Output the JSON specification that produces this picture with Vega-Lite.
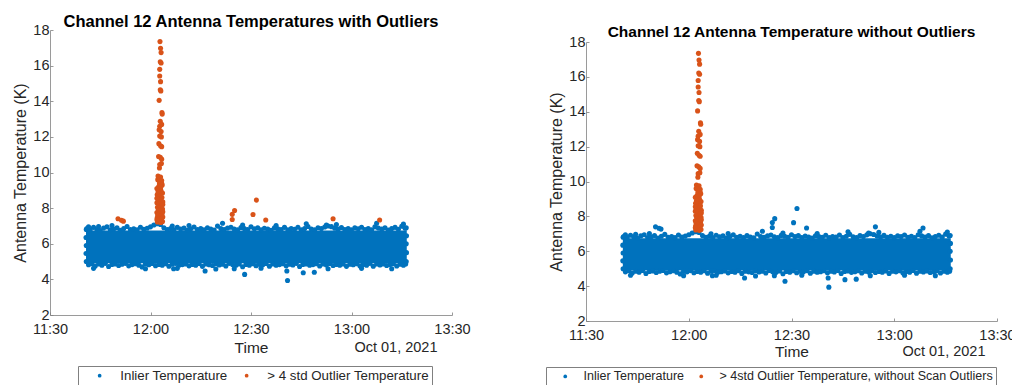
{
  "$schema": "https://vega.github.io/schema/vega-lite/v6.json",
  "padding": {"left": 12, "top": 12, "right": 5, "bottom": 0},
  "background": "white",
  "config": {
    "font": "Liberation Sans",
    "view": {"stroke": null},
    "axis": {"domainColor": "#808080", "domainWidth": 0.8, "tickColor": "#808080", "tickWidth": 0.8, "tickSize": -3, "labelColor": "#262626", "labelFont": "Liberation Sans", "labelFontSize": 14.5, "titleColor": "#262626", "titleFont": "Liberation Sans", "titleFontSize": 15.5, "titleFontWeight": "normal", "grid": false, "labelOverlap": false},
    "title": {"font": "Liberation Sans", "fontSize": 16.5, "fontWeight": "bold", "color": "#000000", "anchor": "middle"},
    "legend": {"labelFont": "Liberation Sans", "labelFontSize": 13.3, "labelColor": "#262626", "labelLimit": 0, "symbolType": "circle", "symbolSize": 14, "symbolStrokeWidth": 0, "orient": "none", "direction": "horizontal", "strokeColor": "#808080", "fillColor": "white", "padding": 3, "symbolOffset": 12, "labelOffset": 14, "columnPadding": -2, "title": null}
  },
  "datasets": {
    "band": [{"t": "2021-10-01T11:40:45Z", "t1": "2021-10-01T13:16:30Z", "v": 4.9, "v2": 6.75}],
    "blue": [
      {"t":"2021-10-01T11:40:50Z","v":5.0},{"t":"2021-10-01T11:40:45Z","v":5.45},{"t":"2021-10-01T11:40:50Z","v":5.9},{"t":"2021-10-01T11:40:45Z","v":6.35},{"t":"2021-10-01T11:40:50Z","v":6.8},
      {"t":"2021-10-01T13:16:20Z","v":5.0},{"t":"2021-10-01T13:16:25Z","v":5.5},{"t":"2021-10-01T13:16:20Z","v":6.0},{"t":"2021-10-01T13:16:25Z","v":6.45},{"t":"2021-10-01T13:16:20Z","v":6.9},
      {"t":"2021-10-01T11:41:00Z","v":6.85},{"t":"2021-10-01T11:42:00Z","v":6.78},{"t":"2021-10-01T11:43:00Z","v":6.92},{"t":"2021-10-01T11:44:00Z","v":6.8},{"t":"2021-10-01T11:45:00Z","v":6.74},{"t":"2021-10-01T11:46:00Z","v":6.88},{"t":"2021-10-01T11:47:00Z","v":6.95},{"t":"2021-10-01T11:48:00Z","v":6.79},{"t":"2021-10-01T11:49:00Z","v":6.83},{"t":"2021-10-01T11:50:00Z","v":6.9},
      {"t":"2021-10-01T11:51:00Z","v":6.76},{"t":"2021-10-01T11:52:00Z","v":6.86},{"t":"2021-10-01T11:53:00Z","v":6.97},{"t":"2021-10-01T11:54:00Z","v":6.8},{"t":"2021-10-01T11:55:00Z","v":6.84},{"t":"2021-10-01T11:56:00Z","v":6.78},{"t":"2021-10-01T11:57:00Z","v":6.93},{"t":"2021-10-01T11:58:00Z","v":6.81},{"t":"2021-10-01T11:59:00Z","v":6.87},{"t":"2021-10-01T12:00:00Z","v":6.95},
      {"t":"2021-10-01T12:01:00Z","v":7.05},{"t":"2021-10-01T12:02:00Z","v":7.12},{"t":"2021-10-01T12:03:00Z","v":7.08},{"t":"2021-10-01T12:04:00Z","v":6.9},{"t":"2021-10-01T12:05:00Z","v":6.8},{"t":"2021-10-01T12:06:00Z","v":6.86},{"t":"2021-10-01T12:07:00Z","v":6.78},{"t":"2021-10-01T12:08:00Z","v":6.92},{"t":"2021-10-01T12:09:00Z","v":6.83},{"t":"2021-10-01T12:10:00Z","v":6.88},
      {"t":"2021-10-01T12:11:00Z","v":6.76},{"t":"2021-10-01T12:12:00Z","v":6.84},{"t":"2021-10-01T12:13:00Z","v":6.94},{"t":"2021-10-01T12:14:00Z","v":6.8},{"t":"2021-10-01T12:15:00Z","v":6.86},{"t":"2021-10-01T12:16:00Z","v":6.79},{"t":"2021-10-01T12:17:00Z","v":6.9},{"t":"2021-10-01T12:18:00Z","v":6.82},{"t":"2021-10-01T12:19:00Z","v":6.77},{"t":"2021-10-01T12:20:00Z","v":6.99},
      {"t":"2021-10-01T12:21:00Z","v":6.85},{"t":"2021-10-01T12:22:00Z","v":6.8},{"t":"2021-10-01T12:23:00Z","v":6.88},{"t":"2021-10-01T12:24:00Z","v":6.93},{"t":"2021-10-01T12:25:00Z","v":6.83},{"t":"2021-10-01T12:26:00Z","v":6.78},{"t":"2021-10-01T12:27:00Z","v":6.91},{"t":"2021-10-01T12:28:00Z","v":6.86},{"t":"2021-10-01T12:29:00Z","v":6.8},{"t":"2021-10-01T12:30:00Z","v":6.95},
      {"t":"2021-10-01T12:31:00Z","v":6.84},{"t":"2021-10-01T12:32:00Z","v":6.9},{"t":"2021-10-01T12:33:00Z","v":6.79},{"t":"2021-10-01T12:34:00Z","v":6.87},{"t":"2021-10-01T12:35:00Z","v":6.82},{"t":"2021-10-01T12:36:00Z","v":6.75},{"t":"2021-10-01T12:37:00Z","v":6.89},{"t":"2021-10-01T12:38:00Z","v":6.84},{"t":"2021-10-01T12:39:00Z","v":6.8},{"t":"2021-10-01T12:40:00Z","v":6.92},
      {"t":"2021-10-01T12:41:00Z","v":6.78},{"t":"2021-10-01T12:42:00Z","v":6.85},{"t":"2021-10-01T12:43:00Z","v":6.81},{"t":"2021-10-01T12:44:00Z","v":6.93},{"t":"2021-10-01T12:45:00Z","v":6.79},{"t":"2021-10-01T12:46:00Z","v":6.86},{"t":"2021-10-01T12:47:00Z","v":6.97},{"t":"2021-10-01T12:48:00Z","v":6.83},{"t":"2021-10-01T12:49:00Z","v":6.78},{"t":"2021-10-01T12:50:00Z","v":6.9},
      {"t":"2021-10-01T12:51:00Z","v":6.85},{"t":"2021-10-01T12:52:00Z","v":6.94},{"t":"2021-10-01T12:53:00Z","v":7.0},{"t":"2021-10-01T12:54:00Z","v":6.96},{"t":"2021-10-01T12:55:00Z","v":6.87},{"t":"2021-10-01T12:56:00Z","v":6.82},{"t":"2021-10-01T12:57:00Z","v":6.91},{"t":"2021-10-01T12:58:00Z","v":6.8},{"t":"2021-10-01T12:59:00Z","v":6.86},{"t":"2021-10-01T13:00:00Z","v":6.78},
      {"t":"2021-10-01T13:01:00Z","v":6.89},{"t":"2021-10-01T13:02:00Z","v":6.84},{"t":"2021-10-01T13:03:00Z","v":6.93},{"t":"2021-10-01T13:04:00Z","v":6.8},{"t":"2021-10-01T13:05:00Z","v":6.86},{"t":"2021-10-01T13:06:00Z","v":6.79},{"t":"2021-10-01T13:07:00Z","v":6.95},{"t":"2021-10-01T13:08:00Z","v":6.88},{"t":"2021-10-01T13:09:00Z","v":6.82},{"t":"2021-10-01T13:10:00Z","v":6.9},
      {"t":"2021-10-01T13:11:00Z","v":6.77},{"t":"2021-10-01T13:12:00Z","v":6.85},{"t":"2021-10-01T13:13:00Z","v":6.92},{"t":"2021-10-01T13:14:00Z","v":6.81},{"t":"2021-10-01T13:15:00Z","v":6.98},{"t":"2021-10-01T13:16:00Z","v":6.87},
      {"t":"2021-10-01T11:41:30Z","v":6.95},{"t":"2021-10-01T11:44:30Z","v":6.97},{"t":"2021-10-01T11:48:30Z","v":7.02},{"t":"2021-10-01T12:06:30Z","v":7.0},{"t":"2021-10-01T12:11:30Z","v":7.02},{"t":"2021-10-01T12:21:30Z","v":7.15},{"t":"2021-10-01T12:27:30Z","v":7.05},{"t":"2021-10-01T12:37:30Z","v":7.02},{"t":"2021-10-01T12:46:30Z","v":7.12},{"t":"2021-10-01T12:52:30Z","v":7.05},{"t":"2021-10-01T12:55:30Z","v":7.08},{"t":"2021-10-01T13:07:30Z","v":7.15},{"t":"2021-10-01T13:15:30Z","v":7.1},
      {"t":"2021-10-01T11:41:30Z","v":4.82},{"t":"2021-10-01T11:42:30Z","v":4.88},{"t":"2021-10-01T11:43:30Z","v":4.75},{"t":"2021-10-01T11:44:30Z","v":4.86},{"t":"2021-10-01T11:45:30Z","v":4.8},{"t":"2021-10-01T11:46:30Z","v":4.9},{"t":"2021-10-01T11:47:30Z","v":4.72},{"t":"2021-10-01T11:48:30Z","v":4.84},{"t":"2021-10-01T11:49:30Z","v":4.87},{"t":"2021-10-01T11:50:30Z","v":4.78},
      {"t":"2021-10-01T11:51:30Z","v":4.85},{"t":"2021-10-01T11:52:30Z","v":4.9},{"t":"2021-10-01T11:53:30Z","v":4.76},{"t":"2021-10-01T11:54:30Z","v":4.83},{"t":"2021-10-01T11:55:30Z","v":4.88},{"t":"2021-10-01T11:56:30Z","v":4.8},{"t":"2021-10-01T11:57:30Z","v":4.7},{"t":"2021-10-01T11:58:30Z","v":4.86},{"t":"2021-10-01T11:59:30Z","v":4.82},{"t":"2021-10-01T12:00:30Z","v":4.89},
      {"t":"2021-10-01T12:01:30Z","v":4.77},{"t":"2021-10-01T12:02:30Z","v":4.84},{"t":"2021-10-01T12:03:30Z","v":4.8},{"t":"2021-10-01T12:04:30Z","v":4.88},{"t":"2021-10-01T12:05:30Z","v":4.74},{"t":"2021-10-01T12:06:30Z","v":4.85},{"t":"2021-10-01T12:07:30Z","v":4.9},{"t":"2021-10-01T12:08:30Z","v":4.79},{"t":"2021-10-01T12:09:30Z","v":4.83},{"t":"2021-10-01T12:10:30Z","v":4.87},
      {"t":"2021-10-01T12:11:30Z","v":4.76},{"t":"2021-10-01T12:12:30Z","v":4.84},{"t":"2021-10-01T12:13:30Z","v":4.8},{"t":"2021-10-01T12:14:30Z","v":4.89},{"t":"2021-10-01T12:15:30Z","v":4.73},{"t":"2021-10-01T12:16:30Z","v":4.86},{"t":"2021-10-01T12:17:30Z","v":4.82},{"t":"2021-10-01T12:18:30Z","v":4.78},{"t":"2021-10-01T12:19:30Z","v":4.88},{"t":"2021-10-01T12:20:30Z","v":4.81},
      {"t":"2021-10-01T12:21:30Z","v":4.85},{"t":"2021-10-01T12:22:30Z","v":4.75},{"t":"2021-10-01T12:23:30Z","v":4.9},{"t":"2021-10-01T12:24:30Z","v":4.83},{"t":"2021-10-01T12:25:30Z","v":4.79},{"t":"2021-10-01T12:26:30Z","v":4.87},{"t":"2021-10-01T12:27:30Z","v":4.71},{"t":"2021-10-01T12:28:30Z","v":4.84},{"t":"2021-10-01T12:29:30Z","v":4.8},{"t":"2021-10-01T12:30:30Z","v":4.88},
      {"t":"2021-10-01T12:31:30Z","v":4.77},{"t":"2021-10-01T12:32:30Z","v":4.85},{"t":"2021-10-01T12:33:30Z","v":4.82},{"t":"2021-10-01T12:34:30Z","v":4.89},{"t":"2021-10-01T12:35:30Z","v":4.74},{"t":"2021-10-01T12:36:30Z","v":4.86},{"t":"2021-10-01T12:37:30Z","v":4.8},{"t":"2021-10-01T12:38:30Z","v":4.83},{"t":"2021-10-01T12:39:30Z","v":4.88},{"t":"2021-10-01T12:40:30Z","v":4.76},
      {"t":"2021-10-01T12:41:30Z","v":4.85},{"t":"2021-10-01T12:42:30Z","v":4.81},{"t":"2021-10-01T12:43:30Z","v":4.9},{"t":"2021-10-01T12:44:30Z","v":4.72},{"t":"2021-10-01T12:45:30Z","v":4.84},{"t":"2021-10-01T12:46:30Z","v":4.87},{"t":"2021-10-01T12:47:30Z","v":4.79},{"t":"2021-10-01T12:48:30Z","v":4.83},{"t":"2021-10-01T12:49:30Z","v":4.88},{"t":"2021-10-01T12:50:30Z","v":4.75},
      {"t":"2021-10-01T12:51:30Z","v":4.86},{"t":"2021-10-01T12:52:30Z","v":4.81},{"t":"2021-10-01T12:53:30Z","v":4.89},{"t":"2021-10-01T12:54:30Z","v":4.78},{"t":"2021-10-01T12:55:30Z","v":4.84},{"t":"2021-10-01T12:56:30Z","v":4.8},{"t":"2021-10-01T12:57:30Z","v":4.87},{"t":"2021-10-01T12:58:30Z","v":4.73},{"t":"2021-10-01T12:59:30Z","v":4.85},{"t":"2021-10-01T13:00:30Z","v":4.82},
      {"t":"2021-10-01T13:01:30Z","v":4.88},{"t":"2021-10-01T13:02:30Z","v":4.76},{"t":"2021-10-01T13:03:30Z","v":4.84},{"t":"2021-10-01T13:04:30Z","v":4.8},{"t":"2021-10-01T13:05:30Z","v":4.9},{"t":"2021-10-01T13:06:30Z","v":4.74},{"t":"2021-10-01T13:07:30Z","v":4.86},{"t":"2021-10-01T13:08:30Z","v":4.81},{"t":"2021-10-01T13:09:30Z","v":4.87},{"t":"2021-10-01T13:10:30Z","v":4.78},
      {"t":"2021-10-01T13:11:30Z","v":4.83},{"t":"2021-10-01T13:12:30Z","v":4.88},{"t":"2021-10-01T13:13:30Z","v":4.75},{"t":"2021-10-01T13:14:30Z","v":4.85},{"t":"2021-10-01T13:15:30Z","v":4.8},{"t":"2021-10-01T13:16:10Z","v":4.86},
      {"t":"2021-10-01T11:43:00Z","v":4.62},{"t":"2021-10-01T11:58:30Z","v":4.6},{"t":"2021-10-01T12:08:00Z","v":4.62},{"t":"2021-10-01T12:19:30Z","v":4.58},{"t":"2021-10-01T12:25:00Z","v":4.6},{"t":"2021-10-01T12:33:00Z","v":4.63},{"t":"2021-10-01T12:53:00Z","v":4.6},{"t":"2021-10-01T13:03:00Z","v":4.62},{"t":"2021-10-01T13:12:00Z","v":4.6},
      {"t":"2021-10-01T12:06:54Z","v":4.6},{"t":"2021-10-01T12:16:18Z","v":4.47},{"t":"2021-10-01T12:28:06Z","v":4.28},{"t":"2021-10-01T12:40:42Z","v":4.47},{"t":"2021-10-01T12:40:54Z","v":3.94},{"t":"2021-10-01T12:45:36Z","v":4.37},{"t":"2021-10-01T12:48:54Z","v":4.4}
    ],
    "lone": [
      {"t":"2021-10-01T11:50:18Z","v":7.4},{"t":"2021-10-01T11:51:54Z","v":7.27},{"t":"2021-10-01T11:51:20Z","v":7.32},{"t":"2021-10-01T12:25:06Z","v":7.87},{"t":"2021-10-01T12:24:24Z","v":7.65},{"t":"2021-10-01T12:24:24Z","v":7.36},{"t":"2021-10-01T12:30:36Z","v":7.64},{"t":"2021-10-01T12:31:36Z","v":8.45},{"t":"2021-10-01T12:34:24Z","v":7.33},{"t":"2021-10-01T12:54:30Z","v":7.4},{"t":"2021-10-01T13:08:24Z","v":7.33}
    ],
    "scan": [
      {"t":"2021-10-01T12:02:50Z","v":17.35},{"t":"2021-10-01T12:03:00Z","v":16.97},{"t":"2021-10-01T12:03:10Z","v":16.73},{"t":"2021-10-01T12:02:55Z","v":16.22},{"t":"2021-10-01T12:03:10Z","v":16.15},{"t":"2021-10-01T12:02:45Z","v":15.79},{"t":"2021-10-01T12:02:45Z","v":15.42},{"t":"2021-10-01T12:03:00Z","v":15.1},{"t":"2021-10-01T12:02:55Z","v":14.64},{"t":"2021-10-01T12:03:05Z","v":14.58},
      {"t":"2021-10-01T12:02:35Z","v":14.05},{"t":"2021-10-01T12:03:25Z","v":13.36},{"t":"2021-10-01T12:03:30Z","v":13.28},{"t":"2021-10-01T12:02:55Z","v":12.88},{"t":"2021-10-01T12:02:45Z","v":12.6},{"t":"2021-10-01T12:03:20Z","v":12.7},{"t":"2021-10-01T12:02:35Z","v":12.4},{"t":"2021-10-01T12:03:10Z","v":12.3},{"t":"2021-10-01T12:02:45Z","v":12.05},{"t":"2021-10-01T12:03:15Z","v":12.0},
      {"t":"2021-10-01T12:02:30Z","v":11.62},{"t":"2021-10-01T12:03:00Z","v":11.5},{"t":"2021-10-01T12:03:20Z","v":11.45},{"t":"2021-10-01T12:02:25Z","v":10.9},{"t":"2021-10-01T12:02:55Z","v":10.85},{"t":"2021-10-01T12:03:20Z","v":10.75},{"t":"2021-10-01T12:02:45Z","v":10.45},{"t":"2021-10-01T12:03:15Z","v":10.5},{"t":"2021-10-01T12:02:40Z","v":10.25},{"t":"2021-10-01T12:02:15Z","v":9.8},
      {"t":"2021-10-01T12:03:00Z","v":9.75},{"t":"2021-10-01T12:02:40Z","v":9.5},{"t":"2021-10-01T12:03:20Z","v":9.4},{"t":"2021-10-01T12:02:25Z","v":9.2},{"t":"2021-10-01T12:03:00Z","v":9.05},
      {"t":"2021-10-01T12:02:10Z","v":9.6},{"t":"2021-10-01T12:03:20Z","v":9.55},{"t":"2021-10-01T12:02:40Z","v":9.35},{"t":"2021-10-01T12:03:30Z","v":9.3},{"t":"2021-10-01T12:01:55Z","v":9.1},{"t":"2021-10-01T12:02:30Z","v":9.0},{"t":"2021-10-01T12:03:10Z","v":8.95},{"t":"2021-10-01T12:03:35Z","v":8.85},{"t":"2021-10-01T12:02:00Z","v":8.75},{"t":"2021-10-01T12:02:50Z","v":8.7},
      {"t":"2021-10-01T12:03:25Z","v":8.6},{"t":"2021-10-01T12:02:15Z","v":8.5},{"t":"2021-10-01T12:03:00Z","v":8.45},{"t":"2021-10-01T12:03:40Z","v":8.35},{"t":"2021-10-01T12:01:55Z","v":8.3},{"t":"2021-10-01T12:02:35Z","v":8.25},{"t":"2021-10-01T12:03:15Z","v":8.15},{"t":"2021-10-01T12:02:05Z","v":8.05},{"t":"2021-10-01T12:02:55Z","v":8.0},{"t":"2021-10-01T12:03:35Z","v":7.95},
      {"t":"2021-10-01T12:02:20Z","v":7.9},{"t":"2021-10-01T12:03:05Z","v":7.85},{"t":"2021-10-01T12:01:55Z","v":7.75},{"t":"2021-10-01T12:02:40Z","v":7.7},{"t":"2021-10-01T12:03:25Z","v":7.65},{"t":"2021-10-01T12:02:10Z","v":7.6},{"t":"2021-10-01T12:03:00Z","v":7.55},{"t":"2021-10-01T12:03:40Z","v":7.5},{"t":"2021-10-01T12:02:00Z","v":7.45},{"t":"2021-10-01T12:02:30Z","v":7.4},
      {"t":"2021-10-01T12:03:15Z","v":7.38},{"t":"2021-10-01T12:02:50Z","v":7.3},{"t":"2021-10-01T12:03:35Z","v":7.25},{"t":"2021-10-01T12:02:05Z","v":7.22},{"t":"2021-10-01T12:03:05Z","v":7.2},{"t":"2021-10-01T12:01:55Z","v":7.35},{"t":"2021-10-01T12:02:15Z","v":8.9},{"t":"2021-10-01T12:03:40Z","v":8.2},{"t":"2021-10-01T12:03:40Z","v":7.8},{"t":"2021-10-01T12:03:05Z","v":9.2},{"t":"2021-10-01T12:01:55Z","v":8.55}
    ]
  },
  "hconcat": [
    {
      "vconcat": [
        {"width": 1, "height": 1, "data": {"values": []}, "mark": "point", "encoding": {}},
        {
          "width": 402,
          "height": 285,
          "title": {"text": "Channel 12 Antenna Temperatures with Outliers", "offset": -8},
          "encoding": {
            "y": {"field": "v", "type": "quantitative", "scale": {"domain": [2, 18], "nice": false}, "axis": {"title": "Antenna Temperature (K)", "titleFontSize": 16, "values": [2, 4, 6, 8, 10, 12, 14, 16, 18], "labelOverlap": false, "labelPadding": 4, "titlePadding": 4}}
          },
          "layer": [
            {
              "data": {"name": "band"},
              "mark": {"type": "rect", "color": "#0072BD"},
              "encoding": {
                "x": {"field": "t", "type": "temporal", "scale": {"type": "utc", "domain": [{"year": 2021, "month": 10, "date": 1, "hours": 11, "minutes": 30, "utc": true}, {"year": 2021, "month": 10, "date": 1, "hours": 13, "minutes": 30, "utc": true}]}, "axis": {"orient": "bottom", "title": "Time", "format": "%H:%M", "values": [{"year": 2021, "month": 10, "date": 1, "hours": 11, "minutes": 30, "utc": true}, {"year": 2021, "month": 10, "date": 1, "hours": 12, "minutes": 0, "utc": true}, {"year": 2021, "month": 10, "date": 1, "hours": 12, "minutes": 30, "utc": true}, {"year": 2021, "month": 10, "date": 1, "hours": 13, "minutes": 0, "utc": true}, {"year": 2021, "month": 10, "date": 1, "hours": 13, "minutes": 30, "utc": true}], "labelPadding": 10, "titlePadding": 5, "labelFlush": false}},
                "x2": {"field": "t1"},
                "y2": {"field": "v2"}
              }
            },
            {
              "data": {"name": "blue"},
              "mark": {"type": "circle", "size": 26, "opacity": 1},
              "encoding": {
                "x": {"field": "t", "type": "temporal", "axis": {"orient": "bottom", "title": "Oct 01, 2021", "titleFontSize": 14.5, "labels": false, "ticks": false, "domain": false, "titleAnchor": "end", "titleAlign": "right", "titleX": 387, "titlePadding": 25}},
                "color": {"datum": "Inlier Temperature", "type": "nominal", "scale": {"domain": ["Inlier Temperature", "> 4 std Outlier Temperature"], "range": ["#0072BD", "#D95319"]}, "legend": {"orient": "none", "legendX": 28, "legendY": 336}}
              }
            },
            {
              "data": {"name": "lone"},
              "mark": {"type": "circle", "size": 26, "opacity": 1},
              "encoding": {
                "x": {"field": "t", "type": "temporal", "axis": null},
                "color": {"datum": "> 4 std Outlier Temperature", "type": "nominal"}
              }
            },
            {
              "data": {"name": "scan"},
              "mark": {"type": "circle", "size": 26, "opacity": 1},
              "encoding": {
                "x": {"field": "t", "type": "temporal", "axis": null},
                "color": {"datum": "> 4 std Outlier Temperature", "type": "nominal"}
              }
            }
          ],
          "resolve": {"axis": {"x": "independent"}}
        }
      ],
      "spacing": 0,
      "resolve": {"scale": {"x": "independent", "y": "independent", "color": "independent"}, "legend": {"color": "independent"}}
    },
    {
      "vconcat": [
        {"width": 1, "height": 12, "data": {"values": []}, "mark": "point", "encoding": {}},
        {
          "width": 411,
          "height": 279,
          "title": {"text": "Channel 12 Antenna Temperature without Outliers", "offset": -6, "fontSize": 15.5},
          "encoding": {
            "y": {"field": "v", "type": "quantitative", "scale": {"domain": [2, 18], "nice": false}, "axis": {"title": "Antenna Temperature (K)", "titleFontSize": 16, "values": [2, 4, 6, 8, 10, 12, 14, 16, 18], "labelOverlap": false, "labelPadding": 4, "titlePadding": 4}}
          },
          "layer": [
            {
              "data": {"name": "band"},
              "mark": {"type": "rect", "color": "#0072BD"},
              "encoding": {
                "x": {"field": "t", "type": "temporal", "scale": {"type": "utc", "domain": [{"year": 2021, "month": 10, "date": 1, "hours": 11, "minutes": 30, "utc": true}, {"year": 2021, "month": 10, "date": 1, "hours": 13, "minutes": 30, "utc": true}]}, "axis": {"orient": "bottom", "title": "Time", "format": "%H:%M", "values": [{"year": 2021, "month": 10, "date": 1, "hours": 11, "minutes": 30, "utc": true}, {"year": 2021, "month": 10, "date": 1, "hours": 12, "minutes": 0, "utc": true}, {"year": 2021, "month": 10, "date": 1, "hours": 12, "minutes": 30, "utc": true}, {"year": 2021, "month": 10, "date": 1, "hours": 13, "minutes": 0, "utc": true}, {"year": 2021, "month": 10, "date": 1, "hours": 13, "minutes": 30, "utc": true}], "labelPadding": 10, "titlePadding": 3, "labelFlush": false}},
                "x2": {"field": "t1"},
                "y2": {"field": "v2"}
              }
            },
            {
              "data": {"name": "blue"},
              "mark": {"type": "circle", "size": 26, "opacity": 1},
              "encoding": {
                "x": {"field": "t", "type": "temporal", "axis": {"orient": "bottom", "title": "Oct 01, 2021", "titleFontSize": 14.5, "labels": false, "ticks": false, "domain": false, "titleAnchor": "end", "titleAlign": "right", "titleX": 399, "titlePadding": 23}},
                "color": {"datum": "Inlier Temperature", "type": "nominal", "scale": {"domain": ["Inlier Temperature", "> 4std Outlier Temperature, without Scan Outliers"], "range": ["#0072BD", "#D95319"]}, "legend": {"orient": "none", "legendX": -40, "legendY": 325, "labelFontSize": 12.5, "symbolOffset": 10, "labelOffset": 12, "columnPadding": 0}}
              }
            },
            {
              "data": {"name": "lone"},
              "mark": {"type": "circle", "size": 26, "opacity": 1},
              "encoding": {
                "x": {"field": "t", "type": "temporal", "axis": null},
                "color": {"datum": "Inlier Temperature", "type": "nominal"}
              }
            },
            {
              "data": {"name": "scan"},
              "mark": {"type": "circle", "size": 26, "opacity": 1},
              "encoding": {
                "x": {"field": "t", "type": "temporal", "axis": null},
                "color": {"datum": "> 4std Outlier Temperature, without Scan Outliers", "type": "nominal"}
              }
            }
          ],
          "resolve": {"axis": {"x": "independent"}}
        }
      ],
      "spacing": 0,
      "resolve": {"scale": {"x": "independent", "y": "independent", "color": "independent"}, "legend": {"color": "independent"}}
    }
  ],
  "spacing": 74,
  "resolve": {"scale": {"x": "independent", "y": "independent", "color": "independent"}, "legend": {"color": "independent"}}
}
